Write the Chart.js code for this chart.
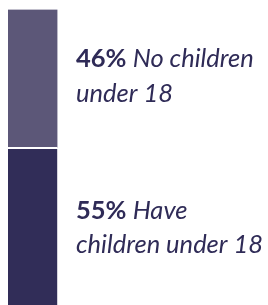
<!DOCTYPE html>
<html>
<head>
<meta charset="utf-8">
<script src="https://cdn.jsdelivr.net/npm/chart.js@4"></script>
<style>
  html, body { margin: 0; padding: 0; background: #fff; overflow: hidden; width: 268px; height: 305px; }
  #wrap { width: 268px; height: 312px; }
</style>
</head>
<body>
<div id="wrap"><canvas id="c" width="268" height="312"></canvas></div>
<script>
const categories = ['Households'];
const seriesNames = ['Have children under 18', 'No children under 18'];
const haveChildren = [55];
const noChildren = [46];
const pctLabels = ['55%', '46%'];
const labelLines = [
  ['Have', 'children under 18'],
  ['No children', 'under 18']
];

const textColor = '#2f2b57';

const labelPlugin = {
  id: 'sideLabels',
  afterDatasetsDraw(chart) {
    const ctx = chart.ctx;
    const x0 = 76;
    chart.data.datasets.forEach((ds, i) => {
      const meta = chart.getDatasetMeta(i);
      const bar = meta.data[0];
      const mid = (bar.y + bar.base) / 2;
      const b1 = mid - 11;
      const b2 = b1 + 34.5;
      ctx.save();
      ctx.fillStyle = textColor;
      ctx.textBaseline = 'alphabetic';
      ctx.textAlign = 'left';
      ctx.font = 'bold 25.5px Lato';
      const pct = pctLabels[i];
      ctx.fillText(pct, x0, b1);
      const w = ctx.measureText(pct + ' ').width;
      ctx.font = 'italic 25.5px Lato';
      ctx.fillText(labelLines[i][0], x0 + w, b1);
      ctx.fillText(labelLines[i][1], x0, b2);
      ctx.restore();
    });
  }
};

new Chart(document.getElementById('c'), {
  type: 'bar',
  data: {
    labels: categories,
    datasets: [
      {
        label: seriesNames[0],
        data: haveChildren,
        backgroundColor: '#312d58',
        borderColor: '#ffffff',
        borderWidth: { top: 2, left: 0, right: 0, bottom: 0 },
        borderSkipped: false,
        barPercentage: 1,
        categoryPercentage: 1
      },
      {
        label: seriesNames[1],
        data: noChildren,
        backgroundColor: '#5c5778',
        borderWidth: 0,
        barPercentage: 1,
        categoryPercentage: 1
      }
    ]
  },
  options: {
    responsive: false,
    animation: false,
    layout: { padding: { left: 8, right: 210.5, top: 9.5, bottom: 0 } },
    plugins: { legend: { display: false }, tooltip: { enabled: false } },
    scales: {
      x: { stacked: true, display: false },
      y: { stacked: true, display: false, min: 0, max: 101 }
    }
  },
  plugins: [labelPlugin]
});
</script>
</body>
</html>
